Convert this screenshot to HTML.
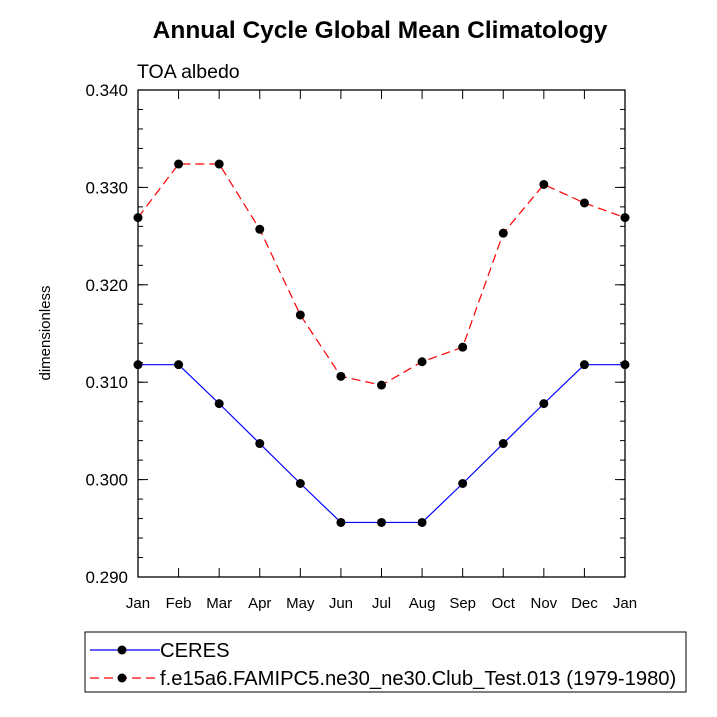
<!DOCTYPE html>
<html><head><meta charset="utf-8"><style>body{margin:0;background:#fff}svg{display:block}text{font-family:"Liberation Sans",sans-serif}</style></head>
<body>
<svg id="chart" width="717" height="717">
<text x="380" y="38" text-anchor="middle" font-size="24.5" font-weight="bold">Annual Cycle Global Mean Climatology</text>
<text x="137" y="78" font-size="19.5">TOA albedo</text>
<text transform="translate(50,333) rotate(-90)" text-anchor="middle" font-size="15">dimensionless</text>
<g id="axes"></g><g id="series"></g>
<g>
<rect x="85" y="632" width="601" height="60" fill="#fff" stroke="#000" stroke-width="1"/>
<g><line x1="90" y1="650" x2="160" y2="650" stroke="#00f" stroke-width="1.2"/><circle cx="122" cy="650" r="4.5" fill="#000"/><text x="160" y="657" font-size="20.2">CERES</text></g>
<g><line x1="90" y1="678" x2="160" y2="678" stroke="#f00" stroke-width="1.2" stroke-dasharray="9,5"/><circle cx="122" cy="678" r="4.5" fill="#000"/><text x="160" y="685" font-size="20.2">f.e15a6.FAMIPC5.ne30_ne30.Club_Test.013 (1979-1980)</text></g>
</g>
</svg>
<script>
const months=["Jan","Feb","Mar","Apr","May","Jun","Jul","Aug","Sep","Oct","Nov","Dec","Jan"];
const ceres=[0.3118,0.3118,0.3078,0.3037,0.2996,0.2956,0.2956,0.2956,0.2996,0.3037,0.3078,0.3118,0.3118];
const model=[0.3269,0.3324,0.3324,0.3257,0.3169,0.3106,0.3097,0.3121,0.3136,0.3253,0.3303,0.3284,0.3269];
const yTicks=[0.290,0.300,0.310,0.320,0.330,0.340];
const yTickLabels=["0.290","0.300","0.310","0.320","0.330","0.340"];
const L=138,R=625,T=90,B=577,ymin=0.29,ymax=0.34;
const ns="http://www.w3.org/2000/svg";
const xs=i=>L+(R-L)*i/(months.length-1);
const ys=v=>B-(v-ymin)/(ymax-ymin)*(B-T);
function mk(t,a,p){const e=document.createElementNS(ns,t);for(const k in a)e.setAttribute(k,a[k]);p.appendChild(e);return e;}
const ax=document.getElementById('axes');
const frame=mk('rect',{x:L,y:T,width:R-L,height:B-T,fill:'none',stroke:'#000','stroke-width':1.3},ax);


months.forEach((m,i)=>{const x=xs(i);
mk('line',{x1:x,y1:B,x2:x,y2:B-9,stroke:'#000'},ax);mk('line',{x1:x,y1:T,x2:x,y2:T+9,stroke:'#000'},ax);
const t=mk('text',{x:x,y:B+31,'text-anchor':'middle','font-size':15},ax);t.textContent=m;

});
for(let v=ymin;v<=ymax+1e-9;v+=0.002){const y=ys(v);mk('line',{x1:L,y1:y,x2:L+5,y2:y,stroke:'#000'},ax);mk('line',{x1:R,y1:y,x2:R-5,y2:y,stroke:'#000'},ax);}
yTicks.forEach((v,i)=>{const y=ys(v);mk('line',{x1:L,y1:y,x2:L+10,y2:y,stroke:'#000'},ax);mk('line',{x1:R,y1:y,x2:R-10,y2:y,stroke:'#000'},ax);
const t=mk('text',{x:L-10,y:y+6,'text-anchor':'end','font-size':17},ax);t.textContent=yTickLabels[i];

});
const sg=document.getElementById('series');
function draw(data,color,dash,name){
const g=mk('g',{},sg);


mk('polyline',{points:data.map((v,i)=>xs(i)+','+ys(v)).join(' '),fill:'none',stroke:color,'stroke-width':1.2,'stroke-dasharray':dash},g);
data.forEach((v,i)=>{const c=mk('circle',{cx:xs(i),cy:ys(v),r:4.5,fill:'#000'},g);

});}
draw(ceres,'#00f','none','ceres-series');
draw(model,'#f00','9,5','model-series');
</script>
</body></html>
